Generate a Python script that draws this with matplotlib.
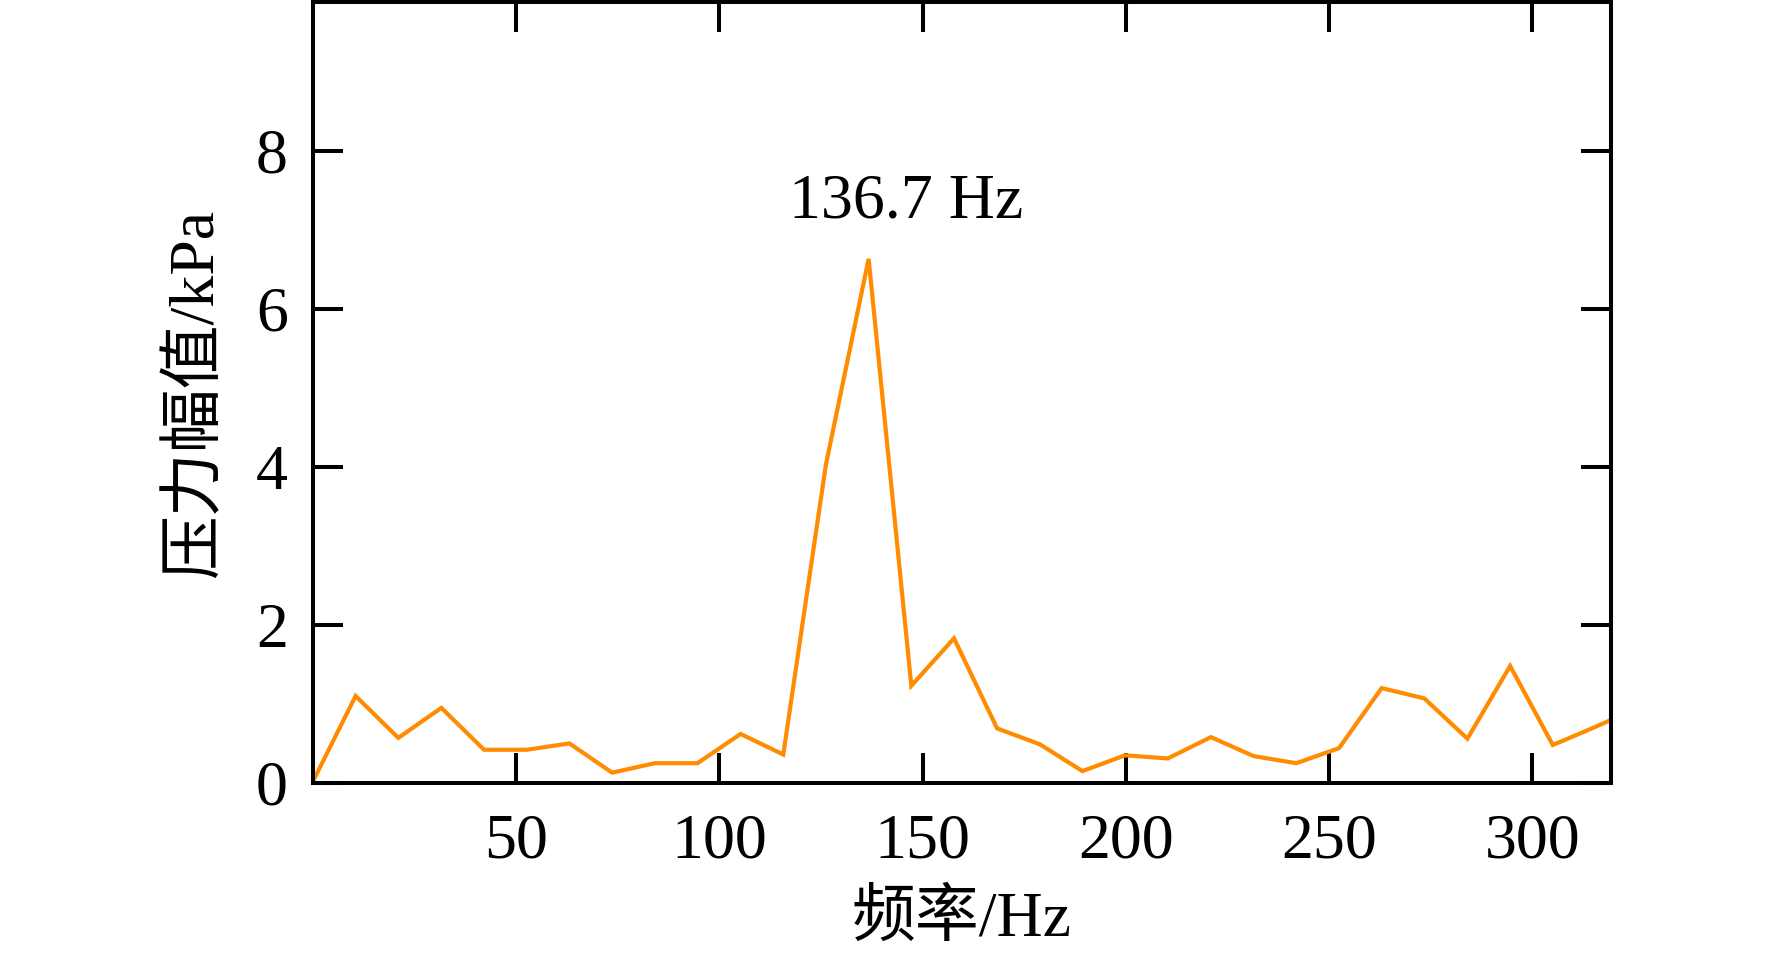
import matplotlib
matplotlib.use("Agg")
import matplotlib.pyplot as plt
import numpy as np

plt.rcParams['font.family'] = ['Liberation Serif', 'Noto Sans CJK SC', 'DejaVu Sans']

# frequency bins (Hz) and pressure amplitude (kPa)
freq = [0.0, 10.5, 21.0, 31.6, 42.1, 52.6, 63.1, 73.6, 84.1, 94.6,
        105.2, 115.7, 126.2, 136.7, 147.2, 157.7, 168.3, 178.8, 189.3, 199.8,
        210.3, 220.9, 231.4, 241.9, 252.4, 262.9, 273.4, 284.0, 294.5, 305.0,
        315.5, 326.0]
amp = [0.02, 1.10, 0.57, 0.95, 0.42, 0.42, 0.50, 0.13, 0.25, 0.25,
       0.62, 0.36, 4.03, 6.63, 1.23, 1.83, 0.69, 0.49, 0.15, 0.35,
       0.31, 0.58, 0.34, 0.25, 0.44, 1.20, 1.07, 0.56, 1.48, 0.48,
       0.71, 0.95]

xticks = [50, 100, 150, 200, 250, 300]
yticks = [0, 2, 4, 6, 8]
peak_label = "136.7 Hz"
xlabel = "频率/Hz"
ylabel = "压力幅值/kPa"

fig = plt.figure(figsize=(17.72, 9.64), dpi=100)
ax = fig.add_axes([0.1766, 0.1878, 0.9091 - 0.1766, 0.998 - 0.1878])

ax.plot(freq, amp, color='#FF8C00', lw=3.0, solid_joinstyle='miter')

ax.set_xlim(0, 319.3)
ax.set_ylim(0, 9.88)
ax.set_xticks(xticks)
ax.set_yticks(yticks)

for s in ax.spines.values():
    s.set_linewidth(2.9)

ax.tick_params(axis='both', which='major', direction='in', length=21.5, width=2.9,
               labelsize=46, top=True, right=True)
ax.tick_params(axis='x', pad=22)
ax.tick_params(axis='y', pad=18)

ax.text(146.0, 7.15, peak_label, fontsize=46, ha='center', va='baseline')

ax.set_xlabel(xlabel, fontsize=46, labelpad=14)
ax.set_ylabel(ylabel, fontsize=46, labelpad=21)

fig.savefig("out.png", dpi=100)
